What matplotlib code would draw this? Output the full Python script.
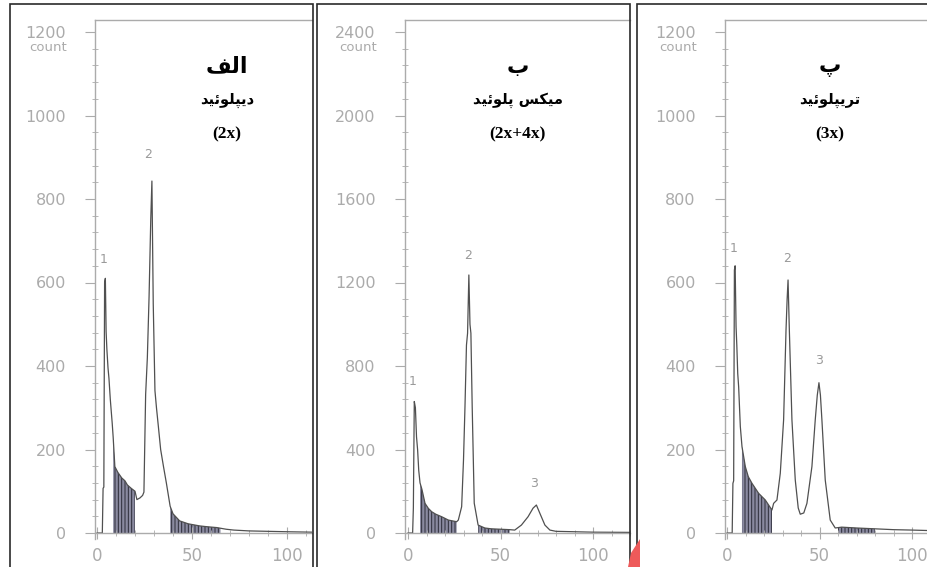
#!/usr/bin/env python3

import matplotlib
matplotlib.use("Agg")
import matplotlib.pyplot as plt
import matplotlib.ticker as ticker
from matplotlib.patches import Rectangle, Polygon
import numpy as np

# --- data (channel, count) ---
diplo_x = [0, 2.8, 3.2, 3.6, 4.0, 4.4, 4.8, 5.2, 5.8, 6.3, 7.0, 8.0, 8.5, 9.4, 11, 13,
           14.7, 16, 18, 20, 21, 22.6, 24, 24.7, 25.6, 26.5, 27.4, 28.3, 28.9, 29.6,
           30.5, 31.3, 32.3, 33.5, 35, 36.5, 38.5, 40, 43.5, 48, 54, 58, 63, 68, 72,
           80, 90, 100, 113]
diplo_y = [0, 0, 107, 110, 600, 610, 482, 440, 395, 370, 320, 263, 230, 159, 145, 132,
           125, 115, 107, 100, 80, 84, 90, 98, 332, 420, 565, 752, 843, 549,
           341, 300, 255, 200, 159, 120, 64, 46, 29, 22, 17, 15, 13, 9, 7,
           5, 4, 3, 2]
diplo_gates = [(8.5, 20), (38.5, 65)]
diplo_peaks = [("1", 3.7, 640), ("2", 27.0, 890)]

mix_x = [0, 2.5, 2.9, 3.4, 4.0, 4.6, 5.2, 5.8, 6.5, 7.5, 9.2, 11, 12.8, 15, 18.2, 21.8,
         26.3, 27.2, 29.0, 30.0, 30.8, 31.6, 32.2, 32.9, 33.5, 34.0, 34.7, 35.8, 37.9,
         41.5, 45, 50, 55, 57.7, 61.3, 64.9, 67.6, 69.4, 71.2, 74, 76.7, 80, 90, 100, 120]
mix_y = [0, 0, 120, 630, 600, 461, 398, 300, 240, 210, 142, 118, 102, 90, 78, 62,
         54, 62, 126, 350, 605, 900, 957, 1236, 1000, 957, 605, 143, 38,
         24, 20, 18, 16, 14, 38, 78, 119, 134, 96, 38, 14, 8, 6, 4, 3]
mix_gates = [(6.5, 26.3), (38, 55)]
mix_peaks = [("1", 2.7, 695), ("2", 32.5, 1300), ("3", 68.0, 206)]

tri_x = [0, 2.8, 3.2, 3.6, 4.0, 4.4, 4.9, 5.3, 5.8, 6.3, 7.2, 8.1, 9.9, 11.5, 13.5, 17.1,
         20.7, 24.3, 25.2, 27, 28.8, 30.6, 31.9, 32.5, 33.0, 33.7, 35.1, 36.9, 38.5, 39.6,
         41.5, 43.2, 45.9, 47.7, 48.8, 49.7, 50.5, 51.3, 53.1, 55.8, 58.5, 62, 70, 80,
         90, 100, 108]
tri_y = [0, 0, 119, 125, 630, 640, 494, 450, 382, 350, 255, 207, 159, 135, 119, 95,
         79, 55, 71, 79, 143, 271, 486, 560, 606, 486, 271, 127, 60, 45,
         48, 71, 159, 271, 330, 360, 330, 271, 127, 31, 12, 14, 12, 10,
         8, 7, 6]
tri_gates = [(8.1, 24.3), (60, 80)]
tri_peaks = [("1", 3.8, 666), ("2", 32.4, 643), ("3", 49.7, 398)]

# Persian captions, written in presentation forms (visual order) so they join
title_a = "\uFED2\uFEDF\uFE8D"                                    # الف
name_a = "\uFEAA\uFEF4\uFE8B\uFEEE\uFEE0\uFB59\uFEF3\uFEA9"          # دیپلوئید
title_b = "\u0628"                                                 # ب
name_b = ("\uFEAA\uFEF4\uFE8B\uFEEE\uFEE0\uFB58" + " "
          + "\uFEB2\uFB91\uFEF4\uFEE3")                            # میکس پلوئید
title_c = "\u067E"                                                 # پ
name_c = "\uFEAA\uFEF4\uFE8B\uFEEE\uFEE0\uFB59\uFEF3\uFEAE\uFE97"   # تریپلوئید

W, H = 927, 567
GREY = "#ababab"
LINE = "#505050"


def add_panel(fig, x, y, gates, peaks, zero_px, scale, xlim, ylim, ystep,
              title, name, ploidy, text_x):
    # place axes so data (0,0) sits at zero_px with given px-per-unit scale
    x0, y0 = zero_px
    sx, sy = scale
    left = x0 + xlim[0] * sx
    right = x0 + xlim[1] * sx
    top = y0 - ylim[1] * sy
    bottom = y0 - ylim[0] * sy
    ax = fig.add_axes([left / W, 1 - bottom / H, (right - left) / W, (bottom - top) / H])
    ax.set_xlim(*xlim)
    ax.set_ylim(*ylim)
    ax.patch.set_alpha(0)

    for side in ["left", "top", "bottom"]:
        ax.spines[side].set_color(GREY)
        ax.spines[side].set_linewidth(1.0)
    ax.spines["right"].set_visible(False)
    ax.spines["bottom"].set_position(("data", 0))

    ax.xaxis.set_major_locator(ticker.FixedLocator([0, 50, 100]))
    ax.xaxis.set_minor_locator(ticker.MultipleLocator(10))
    ax.yaxis.set_major_locator(ticker.MultipleLocator(ystep))
    ax.yaxis.set_minor_locator(ticker.MultipleLocator(ystep / 5))
    ax.set_yticks(np.arange(0, ystep * 6 + 1, ystep))
    ax.tick_params(axis="x", which="major", direction="inout", length=8,
                   color=GREY, labelcolor=GREY, labelsize=12, pad=6)
    ax.tick_params(axis="x", which="minor", direction="inout", length=4, color=GREY)
    ax.tick_params(axis="y", which="major", direction="out", length=7,
                   color=GREY, labelcolor=GREY, labelsize=11.5, pad=14)
    ax.tick_params(axis="y", which="minor", direction="inout", length=4, color=GREY)
    ax.annotate("count", xy=(0, ystep * 6), xycoords=("axes fraction", "data"),
                xytext=(-28, -9), textcoords="offset pixels", ha="right",
                va="top", color=GREY, fontsize=9.5)

    # gated (shaded) regions under the curve
    for a, b in gates:
        xs = np.linspace(a, b, 200)
        ys = np.interp(xs, x, y)
        ax.fill_between(xs, 0, ys, facecolor="#8a8aa0", edgecolor="#2c2c38",
                        hatch="|||||", linewidth=0)

    ax.plot(x, y, "-", color=LINE, linewidth=0.9)

    for lab, px, py in peaks:
        ax.text(px, py, lab, color="#9a9a9a", fontsize=9, ha="center", va="bottom")

    ax.text(text_x, 0.91, title, transform=ax.transAxes, ha="center", va="center",
            fontsize=16, fontweight="bold", family=["DejaVu Sans"])
    ax.text(text_x, 0.845, name, transform=ax.transAxes, ha="center", va="center",
            fontsize=10.5, fontweight="bold", family=["DejaVu Sans"])
    ax.text(text_x, 0.78, ploidy, transform=ax.transAxes, ha="center", va="center",
            fontsize=12.5, fontweight="bold", family=["Liberation Serif", "DejaVu Sans"])
    return ax


def draw(filename: str):
    plt.rcParams["hatch.linewidth"] = 0.7
    plt.rcParams["hatch.color"] = "#2c2c38"
    fig = plt.figure(figsize=(W / 100, H / 100), dpi=100)
    fig.patch.set_facecolor("white")

    add_panel(fig, diplo_x, diplo_y, diplo_gates, diplo_peaks, (97, 533), (1.9, 0.4175),
              (-1, 113), (-15, 1229), 200, title_a, name_a, "(2x)", 0.61)
    add_panel(fig, mix_x, mix_y, mix_gates, mix_peaks, (408, 533), (1.85, 0.20875),
              (-1.6, 120), (-30, 2457), 400, title_b, name_b, "(2x+4x)", 0.50)
    add_panel(fig, tri_x, tri_y, tri_gates, tri_peaks, (727, 533), (1.85, 0.4175),
              (-1.1, 108.1), (-15, 1229), 200, title_c, name_c, "(3x)", 0.52)

    # panel frames
    for x0, x1 in [(10, 313), (317, 630), (637, 940)]:
        fig.add_artist(Rectangle((x0 / W, -0.1), (x1 - x0) / W, 1.1 - 4 / H,
                                 transform=fig.transFigure, fill=False,
                                 edgecolor="#2a2a2a", linewidth=1.2))
    # little red corner mark seen between panels 2 and 3
    fig.add_artist(Polygon([(628 / W, 0), (640 / W, 0), (640 / W, 28 / H), (631 / W, 14 / H)],
                           closed=True, transform=fig.transFigure,
                           facecolor="#ee5a5a", edgecolor="none"))

    fig.savefig(filename, dpi=100)


if __name__ == "__main__":
    draw("out.png")
